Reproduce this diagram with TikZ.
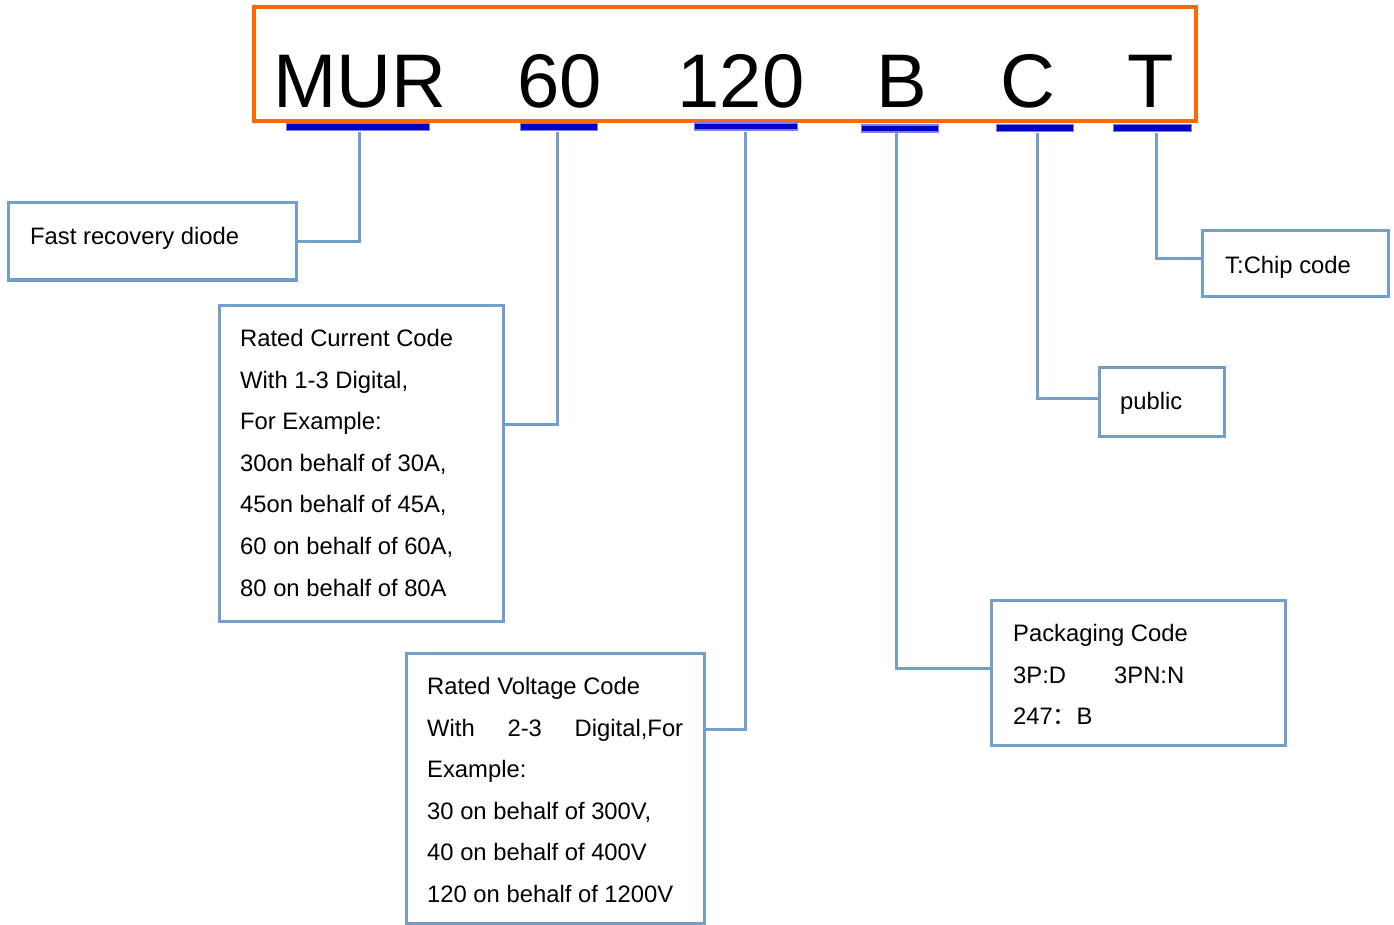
\documentclass[tikz,border=0pt]{standalone}
\usepackage{fontspec}
\setmainfont{Liberation Sans}
\newfontfamily\cjk{Noto Sans CJK SC}
\definecolor{lineblue}{RGB}{115,157,202}
\definecolor{orangeframe}{RGB}{255,106,0}
\definecolor{bardark}{RGB}{0,0,200}
\definecolor{barlight}{RGB}{125,125,230}
\tikzset{
  box/.style={draw=lineblue,line width=3pt,rectangle,inner sep=0pt},
  conn/.style={draw=lineblue,line width=3pt},
  bar/.style={rectangle,fill=bardark,draw=barlight,line width=1.5pt,inner sep=0pt,minimum height=7pt},
  big/.style={inner sep=0pt,anchor=base,font=\fontsize{76}{80}\selectfont},
  txt/.style={inner sep=0pt,anchor=base west,font=\fontsize{23.8}{28}\selectfont}
}
\begin{document}
\begin{tikzpicture}[x=1pt,y=-1pt]
\useasboundingbox (0,0) rectangle (1394,925);
\fill[white] (0,0) rectangle (1394,925);
% title frame
\node[draw=orangeframe,line width=3.4pt,rectangle,inner sep=0pt,minimum width=942pt,minimum height=114pt] (frame) at (725,64) {};
\node[big] (tM) at (360,108) {MUR};
\node[big] (t60) at (560,108) {60};
\node[big] (t120) at (741,108) {120};
\node[big] (tB) at (902,108) {B};
\node[big] (tC) at (1028,108) {C};
\node[big] (tT) at (1151,108) {T};
% bars
\node[bar,minimum width=143pt] (barM) at (358,127) {};
\node[bar,minimum width=77pt] (bar60) at (559,127) {};
\node[bar,minimum width=103pt] (bar120) at (746,126.5) {};
\node[bar,minimum width=77pt] (barB) at (900,128.5) {};
\node[bar,minimum width=77pt] (barC) at (1035,128) {};
\node[bar,minimum width=78pt] (barT) at (1152.5,128) {};
% boxes
\node[box,minimum width=288pt,minimum height=77pt] (fast) at (152,241.5) {};
\node[box,minimum width=284pt,minimum height=316pt] (rc) at (361,463) {};
\node[box,minimum width=298pt,minimum height=270pt] (rv) at (555,788) {};
\node[box,minimum width=294pt,minimum height=145pt] (pk) at (1138,672.5) {};
\node[box,minimum width=125pt,minimum height=69pt] (pub) at (1161.5,401.5) {};
\node[box,minimum width=186pt,minimum height=65pt] (chip) at (1295,263.5) {};
% texts
\node[txt] (f1) at (30,245) {Fast recovery diode};
\node[txt] (c1) at (240,346.5) {Rated Current Code};
\node[txt] (c2) at (240,388.1) {With 1-3 Digital,};
\node[txt] (c3) at (240,429.7) {For Example:};
\node[txt] (c4) at (240,471.3) {30on behalf of 30A,};
\node[txt] (c5) at (240,512.9) {45on behalf of 45A,};
\node[txt] (c6) at (240,554.5) {60 on behalf of 60A,};
\node[txt] (c7) at (240,596.1) {80 on behalf of 80A};
\node[txt] (v1) at (427,694.5) {Rated Voltage Code};
\node[txt] (v2) at (427,736.1) {\hbox to 256pt{With\hfill 2-3\hfill Digital,For}};
\node[txt] (v3) at (427,777.7) {Example:};
\node[txt] (v4) at (427,819.3) {30 on behalf of 300V,};
\node[txt] (v5) at (427,860.9) {40 on behalf of 400V};
\node[txt] (v6) at (427,902.5) {120 on behalf of 1200V};
\node[txt] (p1) at (1013,641.5) {Packaging Code};
\node[txt] (p2) at (1013,683) {\makebox[101pt][l]{3P:D}3PN:N};
\node[txt] (p3) at (1013,724.5) {247{\cjk ：}B};
\node[txt] (u1) at (1120,409.5) {public};
\node[txt] (h1) at (1225,273.5) {T:Chip code};
% connector endpoints
\coordinate (mtop) at (359,132);
\coordinate (s60) at (557,132);
\coordinate (s120) at (745,132);
\coordinate (sB) at (896,133);
\coordinate (sC) at (1037,133);
\coordinate (sT) at (1156,133);
\coordinate (rcin) at (503,424);
\coordinate (rvin) at (704,729);
\coordinate (pkin) at (991,668);
\coordinate (pubin) at (1099,398);
\coordinate (chipin) at (1202,259);
% connectors
\draw[conn] (mtop) |- (fast.east);
\draw[conn] (s60) |- (rcin);
\draw[conn] (s120) |- (rvin);
\draw[conn] (sB) |- (pkin);
\draw[conn] (sC) |- (pubin);
\draw[conn] (sT) |- (chipin);
\end{tikzpicture}
\end{document}
